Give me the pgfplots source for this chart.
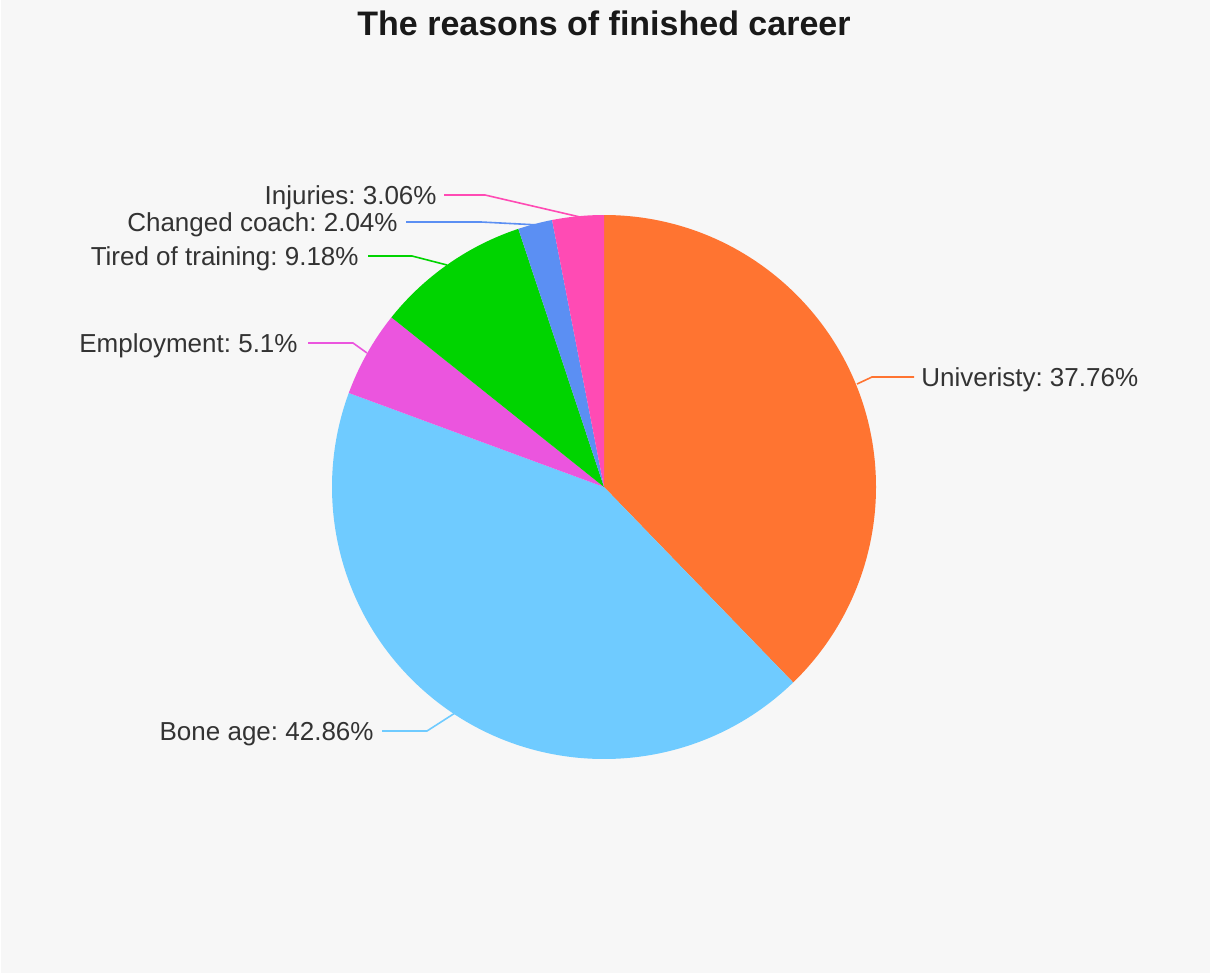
\documentclass[border=0pt]{standalone}
\usepackage{pgfplots}
\usepackage{pgfplotstable}
\pgfplotsset{compat=1.18}
\usepackage{fontspec}
\setmainfont{Liberation Sans}
\frenchspacing

\definecolor{bgcol}{HTML}{F7F7F7}
\definecolor{txt}{HTML}{333333}
\definecolor{cUni}{HTML}{FF7431}
\definecolor{cBone}{HTML}{6FCBFF}
\definecolor{cEmp}{HTML}{EB55DE}
\definecolor{cTired}{HTML}{00D400}
\definecolor{cCoach}{HTML}{5B8FF3}
\definecolor{cInj}{HTML}{FF4BB4}

\tikzset{lbl/.style={font=\fontsize{13}{15}\selectfont, text=txt, inner sep=0pt}}

% share of each reason, clockwise from the top
\pgfplotstableread{
pct   col
37.76 cUni
42.86 cBone
5.1   cEmp
9.18  cTired
2.04  cCoach
3.06  cInj
}\piedata

\begin{document}
\begin{tikzpicture}
\begin{axis}[
    scale only axis,
    width=605pt, height=487pt,
    xmin=0, xmax=1210, ymin=0, ymax=974,
    y dir=reverse,
    hide axis,
    clip=false,
]
\fill[white] (axis cs:0,0) rectangle (axis cs:1210,974);
\fill[bgcol] (axis cs:1.5,0) rectangle (axis cs:1210,972.5);

% pie slices, center (604,487) px, radius 272 px = 136pt
\pgfplotstablegetrowsof{\piedata}
\pgfmathtruncatemacro\nrows{\pgfplotsretval-1}
\gdef\angstart{90}
\pgfplotsforeachungrouped \i in {0,...,\nrows}{%
  \pgfplotstablegetelem{\i}{pct}\of\piedata \let\slicepct\pgfplotsretval
  \pgfplotstablegetelem{\i}{col}\of\piedata \let\slicecol\pgfplotsretval
  \pgfmathsetmacro\angend{\angstart-3.6*\slicepct}%
  \edef\temp{\noexpand\fill[\slicecol] (axis cs:604,487) -- ++(\angstart:136pt)
     arc[start angle=\angstart, end angle=\angend, radius=136pt] -- cycle;}%
  \temp
  \global\let\angstart\angend
}

% leader lines
\draw[cUni, line width=0.8pt] (axis cs:857,384) -- (axis cs:872,377) -- (axis cs:914,377);
\draw[cBone, line width=0.8pt] (axis cs:455,713) -- (axis cs:427,731) -- (axis cs:382,731);
\draw[cEmp, line width=0.8pt] (axis cs:367,353) -- (axis cs:353,343) -- (axis cs:308,343);
\draw[cTired, line width=0.8pt] (axis cs:447,265) -- (axis cs:412,256) -- (axis cs:368,256);
\draw[cCoach, line width=0.8pt] (axis cs:539,225) -- (axis cs:481,222) -- (axis cs:406,222);
\draw[cInj, line width=0.8pt] (axis cs:580,217) -- (axis cs:485,195) -- (axis cs:444,195);

% labels
\node[lbl, anchor=base west] at (axis cs:921,386) {Univeristy: 37.76\%};
\node[lbl, anchor=base east] at (axis cs:374,740) {Bone age: 42.86\%};
\node[lbl, anchor=base east] at (axis cs:298,352) {Employment: 5.1\%};
\node[lbl, anchor=base east] at (axis cs:359,265) {Tired of training: 9.18\%};
\node[lbl, anchor=base east] at (axis cs:398,231) {Changed coach: 2.04\%};
\node[lbl, anchor=base east] at (axis cs:437,204) {Injuries: 3.06\%};

% title
\node[anchor=base, font=\bfseries\fontsize{17}{20}\selectfont, text=black!90]
  at (axis cs:604,36) {The reasons of finished career};
\end{axis}
\end{tikzpicture}
\end{document}
